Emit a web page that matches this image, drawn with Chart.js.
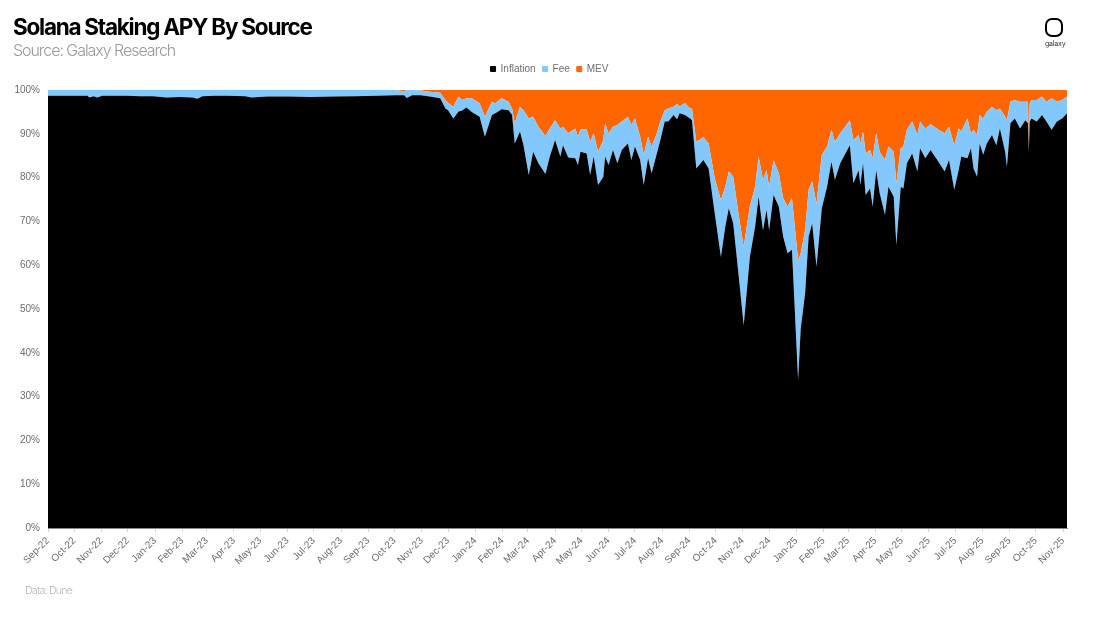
<!DOCTYPE html>
<html>
<head>
<meta charset="utf-8">
<script src="https://cdn.jsdelivr.net/npm/chart.js@4"></script>
<style>
  html, body { margin: 0; padding: 0; background: #fff; width: 1100px; height: 619px; overflow: hidden; }
  #wrap { position: relative; width: 1100px; height: 619px; }
  #wrap div { position: absolute; white-space: nowrap; }
  #title { left: 13px; top: 13px; font: 700 22.5px Inter, sans-serif; letter-spacing: -1.25px; color: #000; }
  #subtitle { left: 13px; top: 40px; font: 300 16px Inter, sans-serif; letter-spacing: -1.05px; color: #9a9a9a; }
  #source { left: 25px; top: 584px; font: 300 10.5px Inter, sans-serif; letter-spacing: -0.7px; color: #b5b5b5; }
  #logo { left: 1045px; top: 18px; width: 14px; height: 15px; border: 2.5px solid #000; border-radius: 7px; }
  #logoText { left: 1045px; top: 39px; font: 400 7px Inter, sans-serif; letter-spacing: -0.2px; color: #333; }
</style>
</head>
<body>
<div id="wrap">
  <canvas id="chart" width="1100" height="619"></canvas>
  <div id="title">Solana Staking APY By Source</div>
  <div id="subtitle">Source: Galaxy Research</div>
  <div id="source">Data: Dune</div>
  <div id="logo"></div>
  <div id="logoText">galaxy</div>
</div>
<script>
// x values are days since 1 Sep 2022
var monthLabels = ['Sep-22','Oct-22','Nov-22','Dec-22','Jan-23','Feb-23','Mar-23','Apr-23','May-23','Jun-23','Jul-23','Aug-23','Sep-23','Oct-23','Nov-23','Dec-23','Jan-24','Feb-24','Mar-24','Apr-24','May-24','Jun-24','Jul-24','Aug-24','Sep-24','Oct-24','Nov-24','Dec-24','Jan-25','Feb-25','Mar-25','Apr-25','May-25','Jun-25','Jul-25','Aug-25','Sep-25','Oct-25','Nov-25'];
var monthDays = [0,30,61,91,122,153,181,212,242,273,303,334,365,395,426,456,487,518,547,578,608,639,669,700,731,761,792,822,853,884,912,943,973,1004,1034,1065,1096,1126,1157];

var days = [0,15,30,45,47,52,56,62,75,90,105,120,135,150,165,170,176,190,205,225,232,250,275,300,325,350,375,395,406,409,415,425,
  435,447,453,456,462,468,472,477,483,492,498,506,510,517,525,529,532,538,542,548,553,559,567,572,578,584,587,593,601,604,607,614,618,622,627,633,635,639,644,649,654,661,665,669,675,679,684,688,694,698,703,707,713,717,720,726,732,734,
  739,747,753,760,767,772,776,781,787,793,800,806,810,815,819,822,827,833,838,843,848,855,858,863,867,871,876,882,888,893,897,903,914,918,924,926,929,932,937,940,944,948,
  954,958,964,967,972,975,979,985,991,994,1000,1006,1015,1022,1027,1033,1038,1041,1048,1052,1055,1059,1062,1066,1070,1076,1081,1085,1091,1093,1097,1102,1108,1114,1117,1118,1119,1121,1127,1133,1138,1144,1150,1156,1161.5];

var inflation = [98.7,98.7,98.7,98.7,98.3,98.6,98.3,98.7,98.7,98.7,98.6,98.6,98.3,98.4,98.3,98.0,98.6,98.7,98.7,98.6,98.3,98.5,98.5,98.4,98.5,98.6,98.7,98.8,98.8,98.2,98.8,98.8,
  98.5,98.1,95.8,95.4,93.5,95.1,95.3,96.0,95.0,93.9,89.3,94.3,94.7,95.6,95.4,94.3,87.8,90.5,87.4,80.6,85.9,83.3,80.8,84.8,88.6,84.8,87.4,84.6,84.4,82.9,85.9,85.5,80.6,84.8,78.3,80.2,84.8,82.9,86.3,83.3,86.3,87.8,84.0,87.1,84.0,78.3,84.4,81.0,85.5,88.6,92.8,92.8,94.3,93.3,94.7,94.3,93.5,93.1,
  82.1,84.0,82.1,71.8,61.9,68.8,73.0,69.6,58.1,46.3,61.9,68.8,75.6,68.0,72.6,68.0,76.0,73.4,66.5,62.7,63.5,33.8,45.6,53.6,66.5,69.6,59.7,73.0,77.9,83.6,79.5,83.3,87.4,78.7,81.7,78.3,83.3,76.0,77.5,73.4,81.7,76.4,
  71.5,77.9,75.6,64.6,77.9,77.5,83.3,85.5,81.4,86.7,84.4,86.3,83.6,81.4,84.0,77.2,81.7,84.8,84.4,86.7,82.1,80.2,87.8,85.2,87.8,89.7,87.4,91.2,85.9,82.5,92.4,93.5,91.2,93.1,92.4,85.9,92.8,93.5,92.8,94.3,92.8,90.9,92.8,93.5,94.7];

var fee = [1.3,1.3,1.3,1.3,1.7,1.4,1.7,1.3,1.3,1.3,1.4,1.4,1.7,1.6,1.7,2.0,1.4,1.3,1.3,1.4,1.7,1.5,1.5,1.6,1.5,1.4,1.3,1.2,0.9,1.8,1.2,1.1,
  1.1,1.3,1.9,1.7,2.7,3.4,2.4,2.1,3.1,3.1,4.6,3.0,2.3,2.5,1.9,1.5,4.6,5.7,8.0,12.9,8.0,8.3,8.7,6.4,4.5,6.4,4.2,5.5,6.8,6.4,5.1,5.5,7.6,5.3,7.6,8.4,7.6,7.2,5.3,8.7,6.5,6.1,8.0,6.4,5.3,6.9,4.9,6.1,4.6,4.2,2.6,3.0,1.9,3.5,1.6,2.7,2.3,2.7,
  6.1,5.2,5.7,8.0,13.0,9.1,8.4,10.6,13.7,17.9,11.5,9.1,9.2,11.5,9.1,9.9,8.0,7.6,8.8,10.7,11.8,27.4,17.1,14.4,10.7,9.5,14.4,12.2,9.2,7.3,8.7,6.8,5.7,9.9,8.0,9.5,7.2,9.5,8.8,11.0,8.4,9.5,
  12.5,9.2,10.3,14.1,8.8,9.6,7.6,7.3,8.3,6.1,6.8,5.9,7.3,8.7,7.6,10.2,9.5,5.7,9.1,3.4,8.8,9.5,6.5,8.3,7.2,6.5,8.0,4.6,8.0,10.6,4.9,4.2,6.1,4.2,4.9,0.4,4.2,4.2,4.9,4.2,4.5,7.2,4.5,4.2,3.8];

var mev = [0,0,0,0,0,0,0,0,0,0,0,0,0,0,0,0,0,0,0,0,0,0,0,0,0,0,0,0,0.3,0,0,0.1,
  0.4,0.6,2.3,2.9,3.8,1.5,2.3,1.9,1.9,3.0,6.1,2.7,3.0,1.9,2.7,4.2,7.6,3.8,4.6,6.5,6.1,8.4,10.5,8.8,6.9,8.8,8.4,9.9,8.8,10.7,9.0,9.0,11.8,9.9,14.1,11.4,7.6,9.9,8.4,8.0,7.2,6.1,8.0,6.5,10.7,14.8,10.7,12.9,9.9,7.2,4.6,4.2,3.8,3.2,3.7,3.0,4.2,4.2,
  11.8,10.8,12.2,20.2,25.1,22.1,18.6,19.8,28.2,35.8,26.6,22.1,15.2,20.5,18.3,22.1,16.0,19.0,24.7,26.6,24.7,38.8,37.3,32.0,22.8,20.9,25.9,14.8,12.9,9.1,11.8,9.9,6.9,11.4,10.3,12.2,9.5,14.5,13.7,15.6,9.9,14.1,
  16.0,12.9,14.1,21.3,13.3,12.9,9.1,7.2,10.3,7.2,8.8,7.8,9.1,9.9,8.4,12.6,8.8,9.5,6.5,9.9,9.1,10.3,5.7,6.5,5.0,3.8,4.6,4.2,6.1,6.9,2.7,2.3,2.7,2.7,2.7,13.7,3.0,2.3,2.3,1.5,2.7,1.9,2.7,2.3,1.5];

function points(values) {
  return values.map(function(v, i) { return { x: days[i], y: v }; });
}

// legend sits higher than the plot and a bit right of the canvas centre
var legendGap = {
  id: 'legendGap',
  beforeInit: function(chart) {
    var fit = chart.legend.fit;
    chart.legend.fit = function() {
      fit.call(chart.legend);
      this.height = 33;
    };
  },
  beforeDraw: function(chart) {
    if (!chart.legend.shifted) {
      chart.legend.left += 12;
      chart.legend.right += 12;
      chart.legend.shifted = true;
    }
  }
};

new Chart(document.getElementById('chart'), {
  type: 'line',
  data: {
    datasets: [
      { label: 'Inflation', data: points(inflation), backgroundColor: '#000000', borderColor: '#000000', fill: 'origin' },
      { label: 'Fee', data: points(fee), backgroundColor: '#83C8FC', borderColor: '#83C8FC', fill: '-1' },
      { label: 'MEV', data: points(mev), backgroundColor: '#FF6600', borderColor: '#FF6600', fill: '-1' }
    ]
  },
  plugins: [legendGap],
  options: {
    responsive: false,
    animation: false,
    layout: { padding: { top: 57, left: 8, right: 33, bottom: 10 } },
    elements: { point: { radius: 0 }, line: { borderWidth: 0, tension: 0 } },
    plugins: {
      tooltip: { enabled: false },
      legend: {
        position: 'top',
        labels: {
          usePointStyle: true,
          pointStyle: 'rect',
          boxWidth: 5,
          boxHeight: 5,
          padding: 7,
          color: '#6e6e6e',
          font: { family: 'Liberation Sans', size: 10 }
        }
      }
    },
    scales: {
      x: {
        type: 'linear',
        min: 0,
        max: 1161.5,
        grid: { drawOnChartArea: false, drawTicks: true, tickLength: 4, color: '#d9d9d9' },
        border: { color: '#8c8c8c' },
        afterBuildTicks: function(axis) {
          axis.ticks = monthDays.map(function(d) { return { value: d }; });
        },
        afterFit: function(axis) { axis.height = 81; },
        ticks: {
          autoSkip: false,
          minRotation: 45,
          maxRotation: 45,
          color: '#6e6e6e',
          font: { family: 'Liberation Sans', size: 10 },
          callback: function(value) { return monthLabels[monthDays.indexOf(value)]; }
        }
      },
      y: {
        stacked: true,
        min: 0,
        max: 100,
        grid: { display: false },
        border: { display: false },
        afterFit: function(axis) { axis.width = 40; },
        ticks: {
          stepSize: 10,
          padding: 0,
          color: '#6e6e6e',
          font: { family: 'Liberation Sans', size: 10 },
          callback: function(value) { return value + '%'; }
        }
      }
    }
  }
});
</script>
</body>
</html>
